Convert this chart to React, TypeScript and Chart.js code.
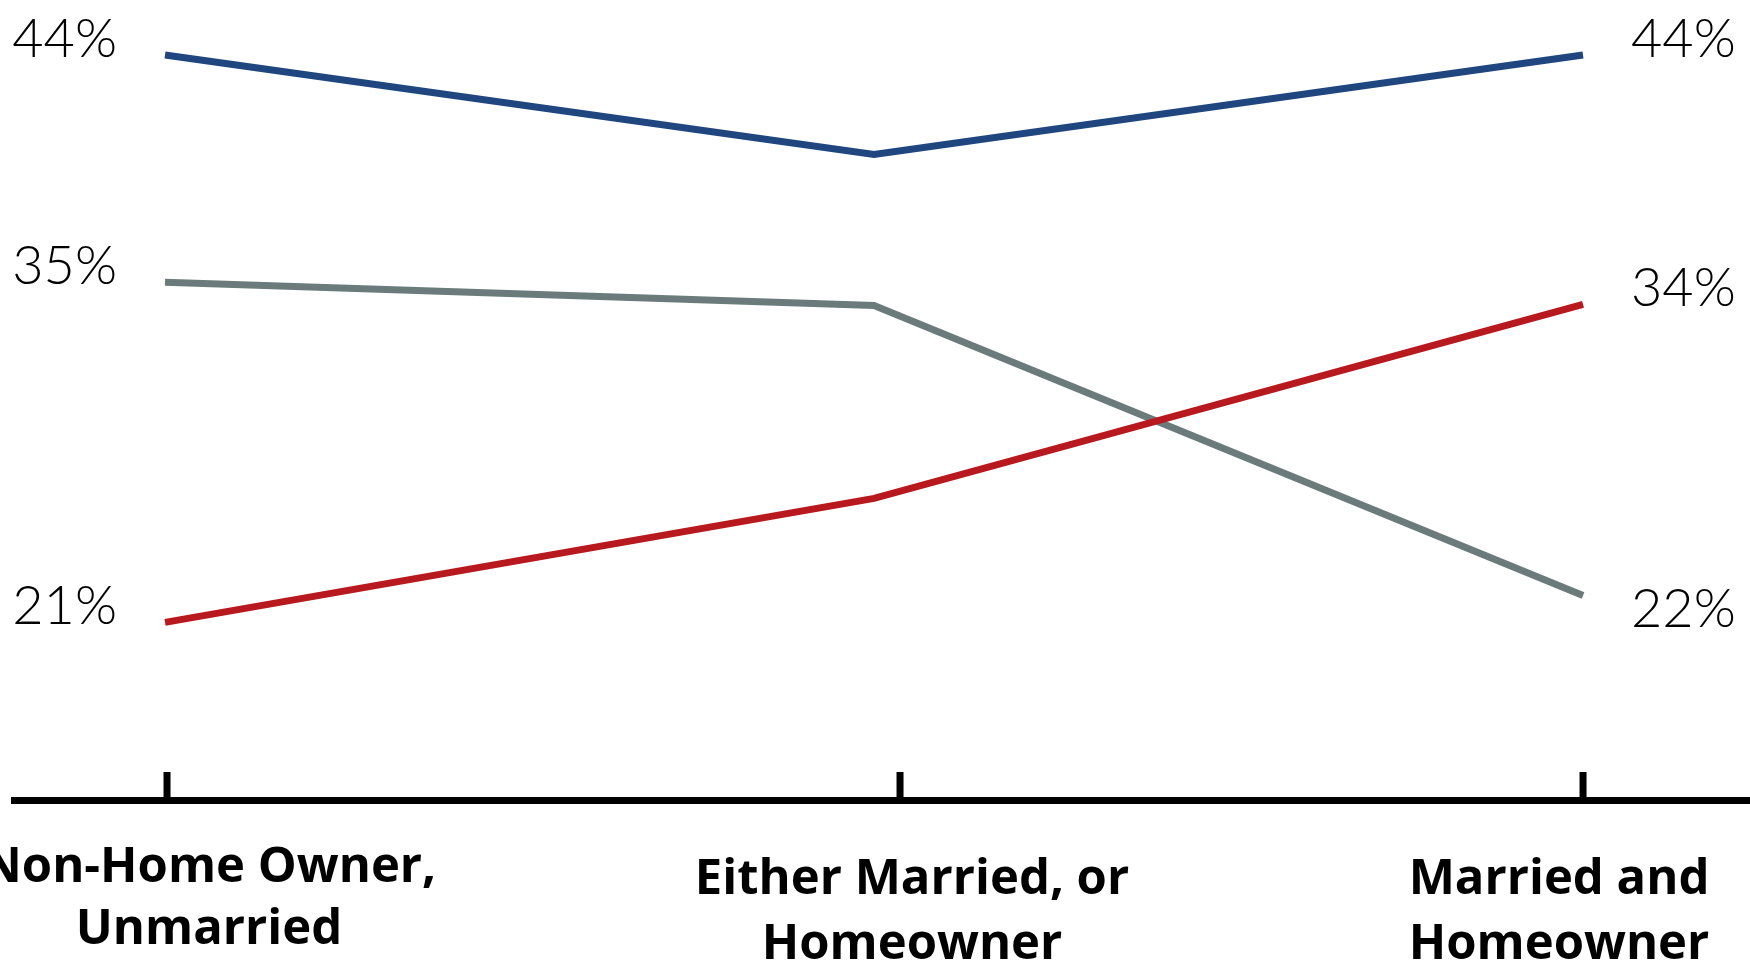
import React, { useEffect, useRef } from "react";
import { Chart, registerables } from "chart.js";

Chart.register(...registerables);

// ---- data ----
const categories: string[][] = [
  ["Non-Home Owner,", "Unmarried"],
  ["Either Married, or", "Homeowner"],
  ["Married and", "Homeowner"],
];
const seriesNames = ["Series 1", "Series 2", "Series 3"];
const blueValues = [44.05, 40.0, 44.05];
const redValues = [20.95, 26.0, 33.9];
const grayValues = [34.8, 33.85, 22.05];

const toPoints = (vals: number[]) => vals.map((v, i) => ({ x: i, y: v }));
const fmtPct = (v: number) => `${Math.round(v)}%`;

const endLabelsPlugin = {
  id: "endLabels",
  afterDatasetsDraw(chart: any, _args: any, opts: any) {
    const ctx = chart.ctx;
    ctx.save();
    ctx.font = opts.font;
    ctx.fillStyle = opts.color;
    ctx.textBaseline = "alphabetic";
    chart.data.datasets.forEach((ds: any, di: number) => {
      const meta = chart.getDatasetMeta(di);
      const pts = meta.data;
      if (!pts.length) return;
      const first = pts[0];
      const last = pts[pts.length - 1];
      ctx.textAlign = "right";
      ctx.fillText(fmtPct(ds.data[0].y), first.x - opts.gap, first.y + opts.leftDy[di]);
      ctx.textAlign = "left";
      ctx.fillText(
        fmtPct(ds.data[ds.data.length - 1].y),
        last.x + opts.gap,
        last.y + opts.rightDy[di]
      );
    });
    ctx.restore();
  },
};

const categoryAxisPlugin = {
  id: "categoryAxis",
  afterDraw(chart: any, _args: any, opts: any) {
    const xs = chart.scales.x;
    const ctx = chart.ctx;
    const base = xs.top;
    ctx.save();
    xs.ticks.forEach((t: any, i: number) => {
      const px = xs.getPixelForValue(t.value);
      // tick mark (pointing up into the plot)
      ctx.fillStyle = opts.tickColor;
      const tx = px + (opts.tickShift[i] || 0);
      ctx.fillRect(tx - opts.tickWidth / 2, base - opts.tickLength, opts.tickWidth, opts.tickLength);
      // label
      const lines: string[] = Array.isArray(t.label) ? t.label : [String(t.label)];
      ctx.font = opts.font;
      ctx.fillStyle = opts.color;
      ctx.textAlign = "center";
      ctx.textBaseline = "alphabetic";
      const lx = px + (opts.labelShift[i] || 0);
      const ly = base + (opts.labelDy[i] || 0);
      lines.forEach((ln, li) => {
        ctx.fillText(ln, lx, ly + li * opts.lineHeight[i]);
      });
    });
    ctx.restore();
  },
};

export default function App() {
  const canvasRef = useRef<HTMLCanvasElement | null>(null);

  useEffect(() => {
    document.body.style.margin = "0";
    const canvas = canvasRef.current;
    if (!canvas) return;
    const chart = new Chart(canvas, {
      type: "line",
      data: {
        datasets: [
          {
            label: seriesNames[0],
            data: toPoints(blueValues),
            borderColor: "#1f467f",
            backgroundColor: "#1f467f",
            borderWidth: 7,
            pointRadius: 0,
            tension: 0,
          },
          {
            label: seriesNames[2],
            data: toPoints(redValues),
            borderColor: "#b7191f",
            backgroundColor: "#b7191f",
            borderWidth: 7,
            pointRadius: 0,
            tension: 0,
          },
          {
            label: seriesNames[1],
            data: toPoints(grayValues),
            borderColor: "#6b7b7b",
            backgroundColor: "#6b7b7b",
            borderWidth: 7,
            pointRadius: 0,
            tension: 0,
          },
        ],
      },
      options: {
        animation: false,
        responsive: false,
        devicePixelRatio: 1,
        layout: { padding: { left: 14, right: 0, top: 0, bottom: 163 } },
        plugins: {
          legend: { display: false },
          tooltip: { enabled: false },
          endLabels: {
            font: '300 54px Lato, "Open Sans", sans-serif',
            color: "#000",
            gap: 48,
            leftDy: [2, 2, 2],
            rightDy: [1.5, 2, 32],
          },
          categoryAxis: {
            font: 'bold 49px "Open Sans", sans-serif',
            color: "#000",
            lineHeight: [62, 65, 65],
            labelShift: [44, 38, -24],
            labelDy: [82, 94, 94],
            tickShift: [2, 26, 0],
            tickWidth: 7,
            tickLength: 28,
            tickColor: "#000",
          },
        } as any,
        scales: {
          x: {
            type: "linear",
            min: -0.213,
            max: 2.2355,
            ticks: {
              display: false,
              stepSize: 1,
              includeBounds: false,
              callback: (value: any) => categories[Number(value)] ?? "",
            },
            grid: { display: true, drawOnChartArea: false, drawTicks: false },
            border: { display: true, color: "#000", width: 7 },
          },
          y: {
            display: false,
            min: 13.72,
            max: 46.29,
          },
        },
      },
      plugins: [endLabelsPlugin, categoryAxisPlugin],
    });
    let alive = true;
    if ((document as any).fonts && (document as any).fonts.ready) {
      (document as any).fonts.ready.then(() => {
        if (alive) chart.draw();
      });
    }
    return () => {
      alive = false;
      chart.destroy();
    };
  }, []);

  return (
    <canvas
      ref={canvasRef}
      width={1750}
      height={963}
      style={{ display: "block", width: 1750, height: 963 }}
    />
  );
}
